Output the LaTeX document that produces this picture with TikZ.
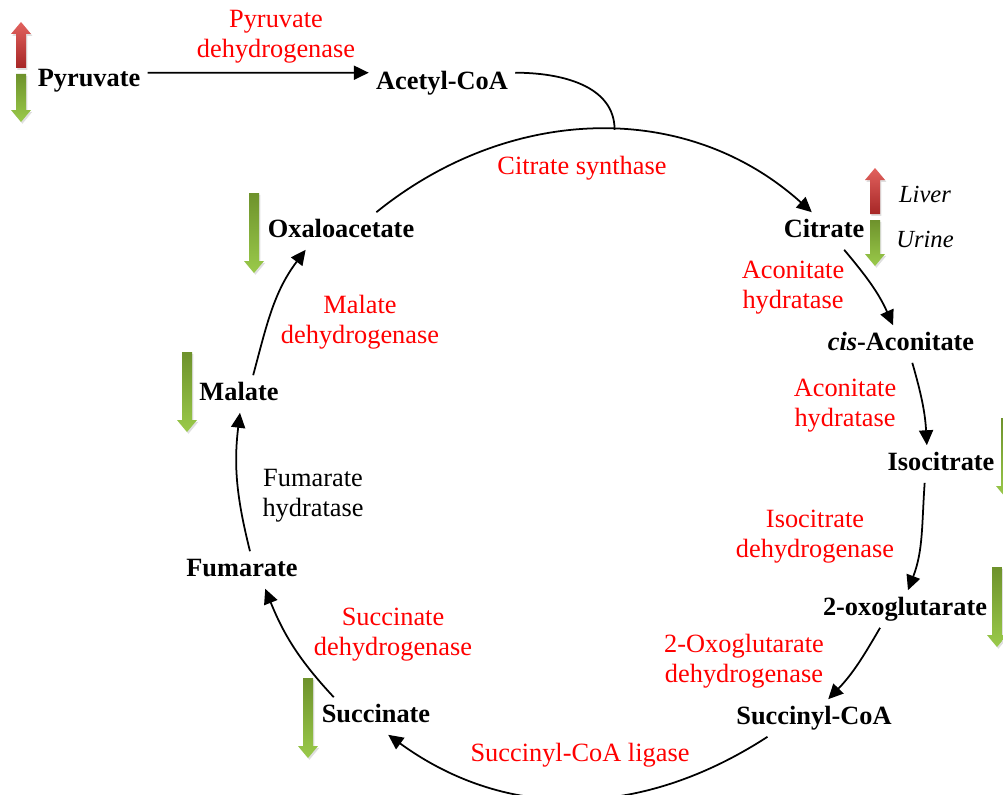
\documentclass[tikz,border=0pt]{standalone}
\usepackage{fontspec}
\setmainfont{Liberation Serif}
\usetikzlibrary{arrows.meta,shadows}
\definecolor{uptop}{RGB}{226,98,94}
\definecolor{upbot}{RGB}{166,38,38}
\definecolor{dntop}{RGB}{110,146,44}
\definecolor{dnbot}{RGB}{154,202,74}
\tikzset{
  pics/uparr/.style={code={
    \shade[top color=uptop, bottom color=upbot,
      drop shadow={opacity=.25, shadow xshift=.8pt, shadow yshift=-1pt}]
      (-5,-#1/2) -- (-5,#1/2-12) -- (-10,#1/2-12) -- (0,#1/2)
      -- (10,#1/2-12) -- (5,#1/2-12) -- (5,-#1/2) -- cycle;}},
  pics/dnarr/.style={code={
    \shade[top color=dntop, bottom color=dnbot,
      drop shadow={opacity=.25, shadow xshift=.8pt, shadow yshift=-1pt}]
      (-5,#1/2) -- (-5,-#1/2+12) -- (-10,-#1/2+12) -- (0,-#1/2)
      -- (10,-#1/2+12) -- (5,-#1/2+12) -- (5,#1/2) -- cycle;}},
}
\begin{document}
\begin{tikzpicture}[>={Triangle[length=8.5pt,width=8pt]}, x=0.02cm, y=0.02cm,
    met/.style={font=\fontsize{15}{17}\selectfont\bfseries, text height=10pt, text depth=3pt, inner sep=4pt},
    enz/.style={font=\fontsize{15}{17}\selectfont, text=red, align=center},
    tis/.style={font=\fontsize{14}{16}\selectfont\itshape},
    flow/.style={->, line width=1pt}]
  \useasboundingbox (0,0) rectangle (1003,-794);
  \clip (0,0) rectangle (1003,-794);

  % 代谢物
  \node[met] (pyr)  at (89,-80)   {Pyruvate};
  \node[met] (acoa) at (442,-83)  {Acetyl-CoA};
  \node[met] (cit)  at (824,-231) {Citrate};
  \node[met] (cis)  at (901,-344) {\textit{cis}-Aconitate};
  \node[met] (iso)  at (941,-464) {Isocitrate};
  \node[met] (oxo)  at (905,-609) {2-oxoglutarate};
  \node[met] (sca)  at (814,-718) {Succinyl-CoA};
  \node[met] (suc)  at (376,-716) {Succinate};
  \node[met] (fum)  at (242,-570) {Fumarate};
  \node[met] (mal)  at (239,-394) {Malate};
  \node[met] (oxa)  at (341,-231) {Oxaloacetate};

  % 酶
  \node[enz] (pdh)  at (276,-37)  {Pyruvate\\dehydrogenase};
  \node[enz] (cs)   at (582,-168) {Citrate synthase};
  \node[enz] (aco1) at (793,-288) {Aconitate\\hydratase};
  \node[enz] (aco2) at (845,-406) {Aconitate\\hydratase};
  \node[enz] (idh)  at (815,-537) {Isocitrate\\dehydrogenase};
  \node[enz] (ogdh) at (744,-661) {2-Oxoglutarate\\dehydrogenase};
  \node[enz] (scl)  at (580,-755) {Succinyl-CoA ligase};
  \node[enz] (sdh)  at (393,-635) {Succinate\\dehydrogenase};
  \node[enz, text=black] (fh) at (313,-496) {Fumarate\\hydratase};
  \node[enz] (mdh)  at (360,-322) {Malate\\dehydrogenase};

  % 图例
  \node[tis] (liver) at (925,-194) {Liver};
  \node[tis] (urine) at (925,-239) {Urine};

  % 循环箭头
  \draw[flow] (pyr.7) -- (acoa.172);
  \draw[flow] (oxa.28) to[out=39, in=138] coordinate[pos=0.54] (join) (cit.123);
  \draw[line width=1pt] (acoa.8) to[out=0, in=90] (join);
  \draw[flow] (cit.-43)  to[out=-50, in=114]  (cis.113);
  \draw[flow] (cis.-59)  to[out=-74, in=93]   (iso.127);
  \draw[flow] (iso.-131) to[out=-94, in=69]   (oxo.81);
  \draw[flow] (oxo.-143) to[out=-120, in=46]  (sca.53);
  \draw[flow] (sca.-158) to[out=-147, in=-36] (suc.-57);
  \draw[flow] (suc.156)  to[out=133, in=-68]  (fum.-39);
  \draw[flow] (fum.67)   to[out=104, in=-97]  (mal.-87);
  \draw[flow] (mal.53)   to[out=75, in=-127]  (oxa.-152);

  % 升降箭头
  \pic at (21,-45)   {uparr=46};
  \pic at (21,-98)   {dnarr=48};
  \pic at (875,-191) {uparr=46};
  \pic at (875,-243) {dnarr=46};
  \pic at (254,-233) {dnarr=80};
  \pic at (187,-392) {dnarr=80};
  \pic at (308,-718) {dnarr=80};
  \pic at (1006,-458) {dnarr=80};
  \pic at (997,-607) {dnarr=80};
\end{tikzpicture}
\end{document}
